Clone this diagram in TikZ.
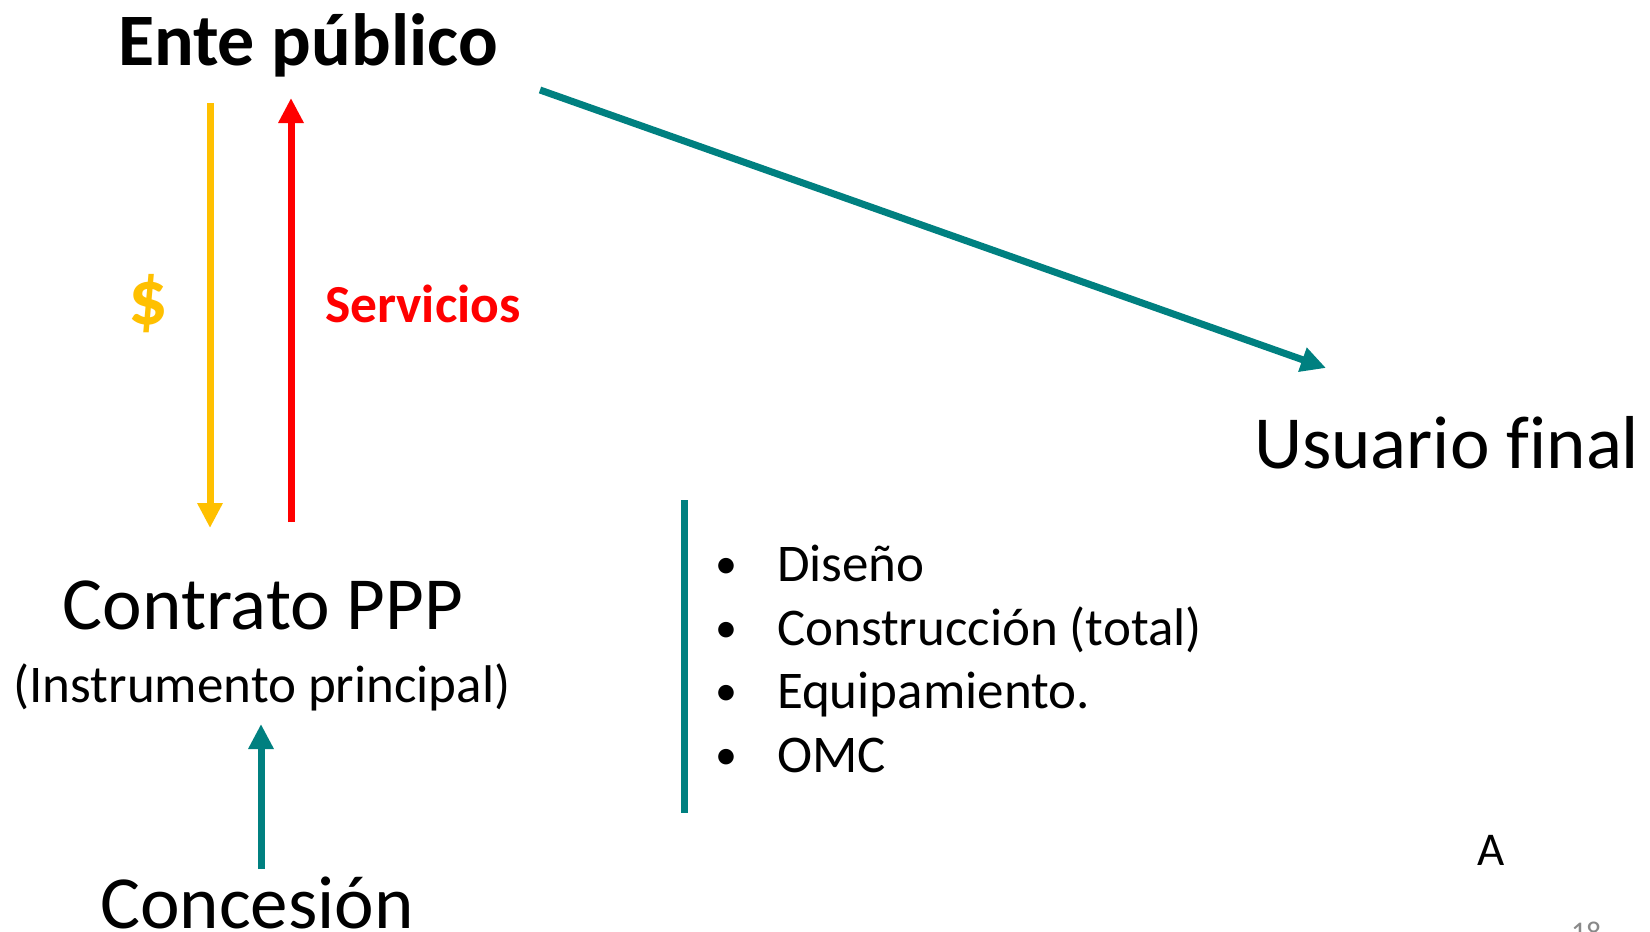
\documentclass[tikz,border=0pt]{standalone}
\usepackage{fontspec}
\setmainfont[Ligatures=NoCommon]{Carlito}
\usetikzlibrary{arrows.meta}
\definecolor{tealc}{RGB}{0,128,128}
\definecolor{yelc}{RGB}{255,192,0}
\definecolor{redc}{RGB}{255,0,0}
\definecolor{grayc}{RGB}{137,137,137}
\tikzset{
  txt/.style={inner sep=0pt, outer sep=0pt},
  big/.style={font=\fontsize{75}{90}\selectfont},
  mid/.style={font=\fontsize{53}{64}\selectfont},
  arr/.style={line width=7pt, -{Triangle[length=25pt,width=24pt]}},
}
\begin{document}
\begin{tikzpicture}[x=1pt,y=-1pt]
\useasboundingbox (0,0) rectangle (1650,932);
\fill[white] (0,0) rectangle (1650,932);
% texts
\node[txt, anchor=base west, font=\fontsize{74}{90}\selectfont\bfseries] (ente) at (118,65) {Ente público};
\node[txt, anchor=center, font=\fontsize{78}{90}\selectfont\bfseries, text=yelc] (dollar) at (148,304) {\$};
\node[txt, anchor=base west, font=\fontsize{53.5}{64}\selectfont\bfseries, text=redc] (serv) at (325,322) {Servicios};
\node[txt, anchor=base west, big] (usuario) at (1254,468) {Usuario f\kern0pt inal};
\node[txt, anchor=base, big] (contrato) at (263,629) {Contrato PPP};
\node[txt, anchor=base, mid] (instr) at (262,702) {(Instrumento principal)};
\node[txt, anchor=base, big] (conc) at (257,928) {Concesión};
\node[txt, anchor=base west, font=\fontsize{47}{56}\selectfont] (a) at (1477,865) {A};
\node[txt, anchor=base west, font=\fontsize{30}{36}\selectfont, text=grayc] (pg) at (1571,942) {18};
% bullets
\foreach \t/\yy/\nm in {Diseño/581/b1, Construcción (total)/645/b2, Equipamiento./708/b3, OMC/772/b4}{
  \node[txt, anchor=base, font=\fontsize{44}{64}\selectfont] (\nm d) at (726,\yy-3) {•};
  \node[txt, anchor=base west, mid] (\nm) at (777,\yy) {\t};
}
% coordinates
\coordinate (ys) at (210,103);
\coordinate (ye) at (210,528);
\coordinate (rs) at (291,522);
\coordinate (re) at (291,98);
\coordinate (ts) at (540,90);
\coordinate (te) at (1326,368);
\coordinate (cs) at (261,869);
\coordinate (ce) at (261,724);
\coordinate (ls) at (684,500);
\coordinate (le) at (684,813);
% arrows
\draw[arr, draw=yelc, fill=yelc] (ys) -- (ye);
\draw[arr, draw=redc, fill=redc] (rs) -- (re);
\draw[arr, draw=tealc, fill=tealc] (ts) -- (te);
\draw[arr, draw=tealc, fill=tealc] (cs) -- (ce);
\draw[line width=7pt, draw=tealc] (ls) -- (le);
\end{tikzpicture}
\end{document}
